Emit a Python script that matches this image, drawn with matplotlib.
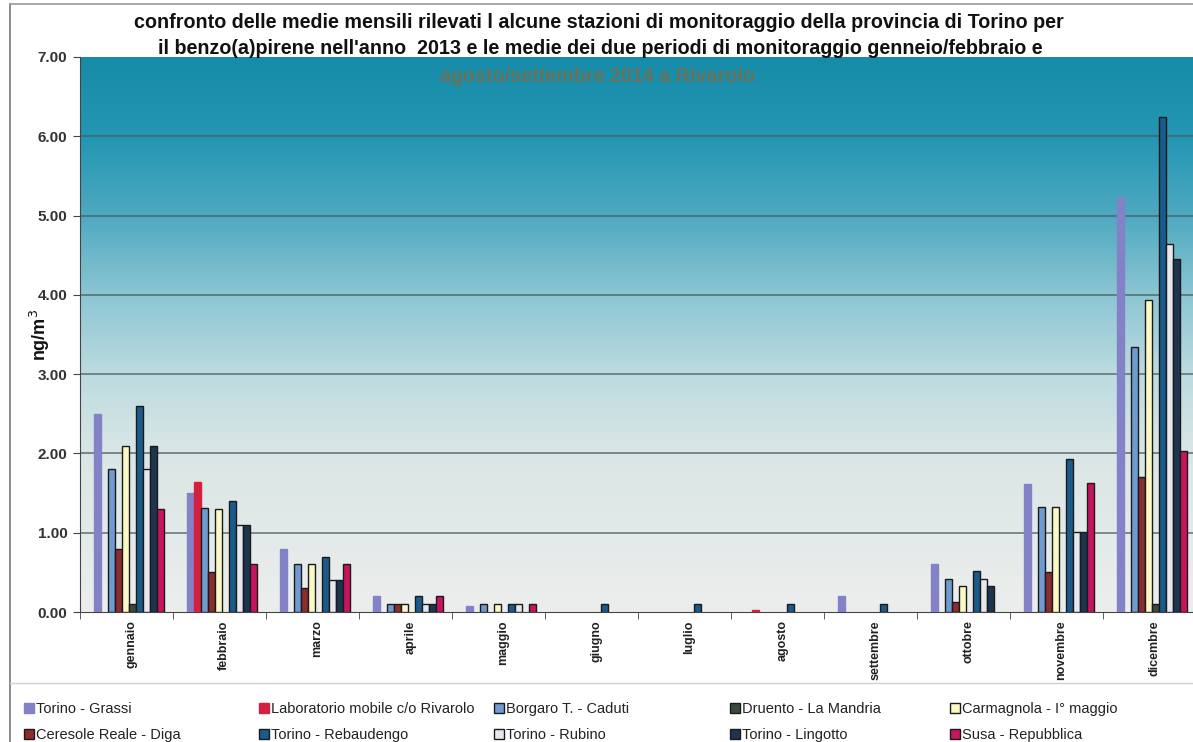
import numpy as np
import matplotlib
matplotlib.use("Agg")
import matplotlib.pyplot as plt
from matplotlib.colors import LinearSegmentedColormap
from matplotlib.patches import Patch
from matplotlib.lines import Line2D

plt.rcParams['font.family'] = ['Liberation Sans', 'DejaVu Sans']

nan = np.nan
months = ['gennaio', 'febbraio', 'marzo', 'aprile', 'maggio', 'giugno',
          'luglio', 'agosto', 'settembre', 'ottobre', 'novembre', 'dicembre']

# series in bar order
torino_grassi = [2.50, 1.50, 0.80, 0.20, 0.08, nan, nan, nan, 0.20, 0.60, 1.62, 5.23]
lab_rivarolo = [nan, 1.64, nan, nan, nan, nan, nan, 0.03, nan, nan, nan, nan]
borgaro = [1.80, 1.31, 0.60, 0.10, 0.10, nan, nan, nan, nan, 0.42, 1.32, 3.34]
ceresole = [0.80, 0.50, 0.30, 0.10, nan, nan, nan, nan, nan, 0.13, 0.51, 1.70]
carmagnola = [2.10, 1.30, 0.60, 0.10, 0.10, nan, nan, nan, nan, 0.33, 1.32, 3.93]
druento = [0.10, nan, nan, nan, nan, nan, nan, nan, nan, nan, nan, 0.10]
rebaudengo = [2.60, 1.40, 0.70, 0.20, 0.10, 0.10, 0.10, 0.10, 0.10, 0.52, 1.93, 6.24]
rubino = [1.80, 1.10, 0.40, 0.10, 0.10, nan, nan, nan, nan, 0.42, 1.01, 4.64]
lingotto = [2.10, 1.10, 0.40, 0.10, nan, nan, nan, nan, nan, 0.33, 1.01, 4.45]
susa = [1.30, 0.60, 0.60, 0.20, 0.10, nan, nan, nan, nan, nan, 1.63, 2.03]

series_names = ['Torino - Grassi', 'Laboratorio mobile c/o Rivarolo', 'Borgaro T. - Caduti',
                'Ceresole Reale - Diga', 'Carmagnola - I° maggio', 'Druento - La Mandria',
                'Torino - Rebaudengo', 'Torino - Rubino', 'Torino - Lingotto', 'Susa - Repubblica']
series_values = [torino_grassi, lab_rivarolo, borgaro, ceresole, carmagnola, druento,
                 rebaudengo, rubino, lingotto, susa]
colors = ['#8482c6', '#d4203e', '#6f9bd0', '#8a2c30', '#fbf8c8', '#3c4a3e',
          '#1b5b8c', '#e6e8ee', '#1e3550', '#c8145e']
edges = ['#8482c6', '#d4203e', '#1a1a1a', '#1a1a1a', '#1a1a1a', '#1a1a1a',
         '#1a1a1a', '#1a1a1a', '#1a1a1a', '#1a1a1a']

W, H = 1193, 742
fig = plt.figure(figsize=(W / 100, H / 100), dpi=100)
fig.patch.set_facecolor('white')

left_px, right_px, top_px, bot_px = 80, 1196, 57, 612
ax = fig.add_axes([left_px / W, 1 - bot_px / H, (right_px - left_px) / W, (bot_px - top_px) / H])

# gradient background
cmap = LinearSegmentedColormap.from_list('bg', [
    (0.0, '#eceeed'), (2 / 7, '#dae6e5'), (3 / 7, '#bcdbe0'), (4 / 7, '#8cc6d3'),
    (5 / 7, '#4fa9c1'), (6 / 7, '#2396b3'), (1.0, '#178ca9')])
grad = np.linspace(0, 1, 256).reshape(-1, 1)
ax.imshow(grad, extent=[-0.5, 11.5, 0, 7], origin='lower', aspect='auto', cmap=cmap, zorder=0)

ax.set_xlim(-0.5, 11.5)
ax.set_ylim(0, 7)
for v in range(1, 7):
    ax.axhline(v, color='#4a5d60', lw=1.2, alpha=0.8, zorder=1)

x = np.arange(len(months))
bw = 7.0 / 93.0
start = -0.5 + 14.0 / 93.0
for k, (name, vals) in enumerate(zip(series_names, series_values)):
    ax.bar(x + start + k * bw, vals, width=bw, align='edge', color=colors[k],
           edgecolor=edges[k], linewidth=1.0, zorder=3, label=name)

for s in ['top', 'right']:
    ax.spines[s].set_visible(False)
ax.spines['left'].set_color('#444444')
ax.spines['bottom'].set_color('#444444')

ax.set_yticks(np.arange(0, 7.01, 1))
ax.set_yticklabels([f'{v:.2f}' for v in np.arange(0, 7.01, 1)], fontsize=11,
                   fontweight='bold', color='#333333')
ax.tick_params(axis='y', length=5, color='#444444', pad=4)
ax.set_xticks(x + 0.05)
ax.set_xticklabels(months, rotation=90, fontsize=9, fontweight='bold', color='#222222')
ax.tick_params(axis='x', which='major', length=0, pad=6)
ax.set_xticks(np.arange(-0.5, 11.6, 1), minor=True)
ax.tick_params(axis='x', which='minor', length=5, color='#444444', direction='out')

fig.text(40 / W, 1 - 335 / H, 'ng/m$^3$', rotation=90, ha='center', va='center',
         fontsize=13, fontweight='bold', color='#111111')

# title
fig.text(599 / W, 1 - 22 / H,
         'confronto delle medie mensili rilevati l alcune stazioni di monitoraggio della provincia di Torino per',
         ha='center', va='center', fontsize=14.2, fontweight='bold', color='#111111')
fig.text(600 / W, 1 - 49 / H,
         "il benzo(a)pirene nell'anno  2013 e le medie dei due periodi di monitoraggio genneio/febbraio e",
         ha='center', va='center', fontsize=14.2, fontweight='bold', color='#111111')
fig.text(598 / W, 1 - 76 / H, 'agosto/settembre 2014 a Rivarolo',
         ha='center', va='center', fontsize=14.2, fontweight='bold', color='#68725a')

# frame lines
fig.add_artist(Line2D([10 / W, 10 / W], [0, 1 - 4 / H], color='#777777', lw=1.2))
fig.add_artist(Line2D([10 / W, 1], [1 - 4 / H, 1 - 4 / H], color='#999999', lw=1.2))
fig.add_artist(Line2D([10 / W, 1], [1 - 683 / H, 1 - 683 / H], color='#d0d0d0', lw=1.0))

# legend, one block per column
handles = [Patch(facecolor=c, edgecolor=e, linewidth=1.0) for c, e in zip(colors, edges)]
col_x = [24, 259, 494, 730, 950]
columns = [[0, 3], [1, 6], [2, 7], [5, 8], [4, 9]]
for cx, idxs in zip(col_x, columns):
    lg = fig.legend([handles[i] for i in idxs], [series_names[i] for i in idxs],
                    loc='upper left', bbox_to_anchor=(cx / W, 1 - 702 / H),
                    frameon=False, fontsize=10.5, handlelength=0.7, handleheight=0.7,
                    handletextpad=0.15, labelspacing=0.85, borderaxespad=0, borderpad=0)
    for t in lg.get_texts():
        t.set_color('#222222')

fig.savefig('out.png', dpi=100, facecolor='white')
